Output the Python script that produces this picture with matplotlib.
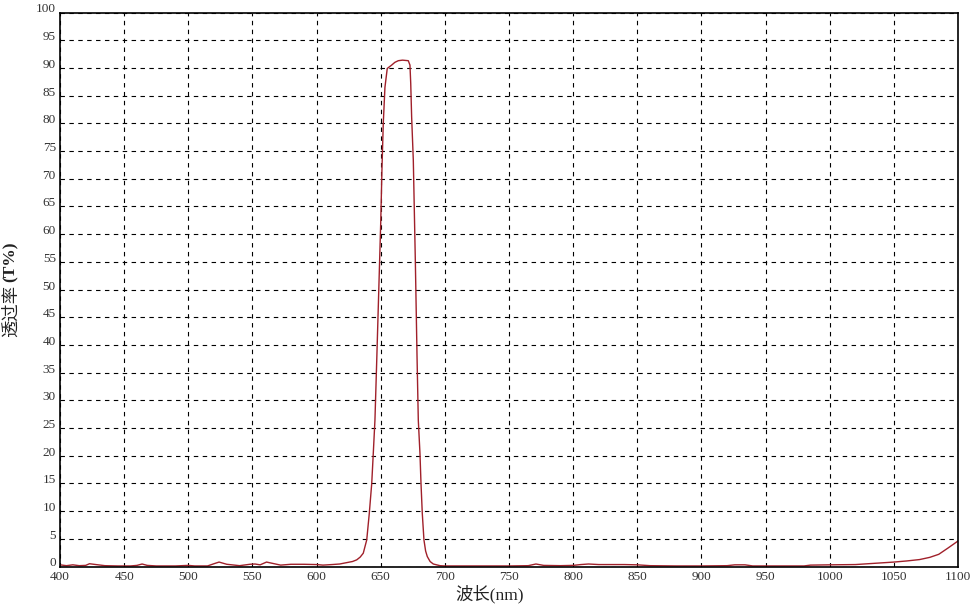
import numpy as np
import matplotlib.pyplot as plt
import matplotlib.transforms as mtransforms

# Transmission curve (wavelength nm, T %)
wavelength = [400, 405, 410, 415, 420, 423, 428, 435, 445, 455, 460, 464, 468, 475,
              490, 500, 505, 515, 520, 524, 530, 540, 548, 552, 556, 561, 566, 572,
              580, 590, 600, 605, 612, 618, 623.5, 628, 631.3, 634, 636.4, 639.1,
              641.1, 643, 644.2, 645.5, 647, 648.5, 650, 651, 652, 653.3, 655.1,
              658.5, 661, 663.7, 667, 671.5, 672.8, 673.4, 674.1, 675.4, 677, 678.3,
              679.3, 680.6, 681.4, 682.4, 683.7, 685, 686.3, 688.5, 691, 696.2, 700,
              710, 730, 750, 765, 771, 777, 790, 800, 806, 812, 820, 840, 850, 860,
              880, 900, 920, 926, 934, 940, 960, 980, 985, 1000, 1020, 1030, 1040,
              1050, 1060, 1070, 1078, 1085, 1092, 1100]
transmittance = [0.3, 0.15, 0.3, 0.15, 0.2, 0.5, 0.35, 0.15, 0.1, 0.1, 0.2, 0.45, 0.2, 0.1,
                 0.1, 0.2, 0.1, 0.1, 0.5, 0.8, 0.4, 0.15, 0.4, 0.45, 0.3, 0.8, 0.55, 0.25,
                 0.4, 0.4, 0.35, 0.25, 0.35, 0.45, 0.7, 0.9, 1.2, 1.7, 2.4, 4.8,
                 9.6, 15, 20.4, 26.4, 38, 50, 62, 72, 80, 86.5, 89.9,
                 90.5, 91.0, 91.3, 91.4, 91.3, 90.5, 87.2, 81.2, 73.4, 55, 38,
                 26.4, 20.4, 15, 9.6, 4.8, 2.8, 1.8, 0.9, 0.45, 0.15, 0.1,
                 0.1, 0.1, 0.1, 0.15, 0.45, 0.2, 0.15, 0.2, 0.35, 0.45, 0.35, 0.35, 0.3, 0.15,
                 0.1, 0.1, 0.15, 0.3, 0.3, 0.1, 0.1, 0.1, 0.25, 0.3, 0.35, 0.5, 0.65,
                 0.8, 1.0, 1.25, 1.65, 2.2, 3.3, 4.6]

x_ticks = np.arange(400, 1101, 50)
y_ticks = np.arange(0, 101, 5)

W, H = 979, 614
fig = plt.figure(figsize=(W / 100, H / 100), dpi=100)
ax = fig.add_axes([60 / W, (H - 566.5) / H, 898 / W, 554 / H])

ax.plot(wavelength, transmittance, color='#a0202a', linewidth=1.0)

ax.set_xlim(400, 1100)
ax.set_ylim(0, 100)
ax.set_xticks(x_ticks)
ax.set_yticks(y_ticks)
ax.grid(True, color='black', linestyle=(0, (4, 4)), linewidth=0.8)
ax.tick_params(length=0, labelsize=9.5, labelcolor='#333333', pad=3)
for lab in ax.get_xticklabels() + ax.get_yticklabels():
    lab.set_fontfamily('Liberation Serif')

# y tick labels sit a little above their grid lines
offset = mtransforms.ScaledTranslation(0, 4.5 / 100, fig.dpi_scale_trans)
for lab in ax.get_yticklabels():
    lab.set_transform(lab.get_transform() + offset)

for s in ax.spines.values():
    s.set_color('black')
    s.set_linewidth(1.2)

fig.text(490 / W, 1 - 594 / H, '波长(nm)', ha='center', va='center', fontsize=12.5,
         family=['Liberation Serif', 'Noto Sans CJK SC'], color='#222222')
fig.text(11 / W, 1 - 311 / H, '透过率', ha='center', va='center', rotation=90,
         fontsize=12.5, family=['Noto Sans CJK SC'], color='#222222')
fig.text(11 / W, 1 - 262 / H, '(T%)', ha='center', va='center', rotation=90,
         fontsize=12.5, family=['Liberation Serif'], weight='bold', color='#222222')

fig.savefig('out.png', dpi=100)
